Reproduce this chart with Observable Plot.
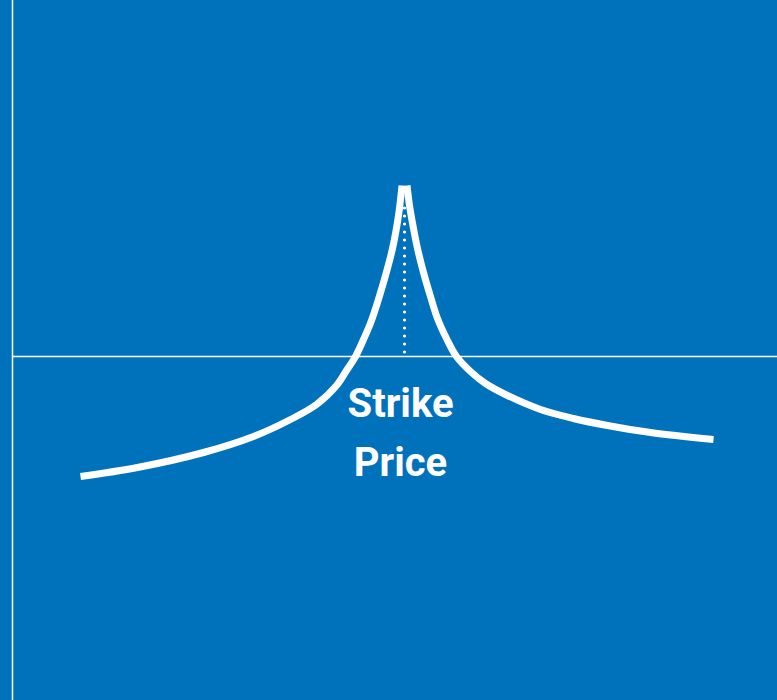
<!DOCTYPE html>
<html>
<head>
<meta charset="utf-8">
<script src="https://cdn.jsdelivr.net/npm/d3@7"></script>
<script src="https://cdn.jsdelivr.net/npm/@observablehq/plot@0.6"></script>
<style>
  html, body { margin: 0; padding: 0; background: #0072BC; }
  #chart { width: 777px; height: 700px; overflow: hidden; }
</style>
</head>
<body>
<div id="chart"></div>
<script>
// Price relative to the strike (strike = 0) and position value
const leftPrice  = [-81, -66.75, -50.25, -37.75, -28.5, -22, -17, -14.5, -12.25, -10.25, -8.25, -5.25, -3, -1.5, -0.625];
const leftValue  = [-60, -55.5, -48, -40, -31.5, -24, -14.5, -7, 0, 8.5, 18, 37, 54, 70.5, 85.5];
const rightPrice = [0.625, 1.25, 2.25, 3.25, 4.75, 6.5, 8.25, 10.5, 13, 16.5, 20.25, 25.75, 34, 42.25, 50.75, 61.5, 77.25];
const rightValue = [85.5, 75.5, 64, 54, 42, 30, 19, 9, 0, -7.5, -13.5, -19.5, -26.5, -31, -34.5, -38, -41.5];
const strikePrice = 0;
const strikeMarker = [2, 76.5];
const axisPrice = -98;
const labelLines = ["Strike", "Price"];
const labelY = [-30, -59.5];
const labelX = -1;
const xDomain = [-101, 93.25];
const yDomain = [-172, 178];

const curve = [
  ...leftPrice.map((p, i) => ({price: p, value: leftValue[i], branch: "left"})),
  ...rightPrice.map((p, i) => ({price: p, value: rightValue[i], branch: "right"}))
];
const labels = labelLines.map((t, i) => ({text: t, x: labelX, y: labelY[i]}));

const blue = "#0072BC";
const chart = Plot.plot({
  width: 777,
  height: 700,
  margin: 0,
  style: {background: blue, overflow: "visible"},
  x: {domain: xDomain, axis: null},
  y: {domain: yDomain, axis: null},
  marks: [
    Plot.ruleX([axisPrice], {y1: yDomain[0], y2: yDomain[1], stroke: "white", strokeWidth: 1.5}),
    Plot.ruleY([0], {x1: axisPrice, x2: xDomain[1], stroke: "white", strokeWidth: 1.5}),
    Plot.ruleX([strikePrice], {y1: strikeMarker[0], y2: strikeMarker[1], stroke: "white", strokeWidth: 3.2, strokeDasharray: "0,8", strokeLinecap: "round"}),
    Plot.line(curve, {x: "price", y: "value", z: "branch", stroke: "white", strokeWidth: 7, curve: "catmull-rom", strokeLinecap: "butt"}),
    Plot.text(labels, {x: "x", y: "y", text: "text", fill: "white", fontSize: 40, fontWeight: "bold", fontFamily: "Roboto", lineAnchor: "bottom", textAnchor: "middle"})
  ]
});
document.getElementById("chart").appendChild(chart);
</script>
</body>
</html>
